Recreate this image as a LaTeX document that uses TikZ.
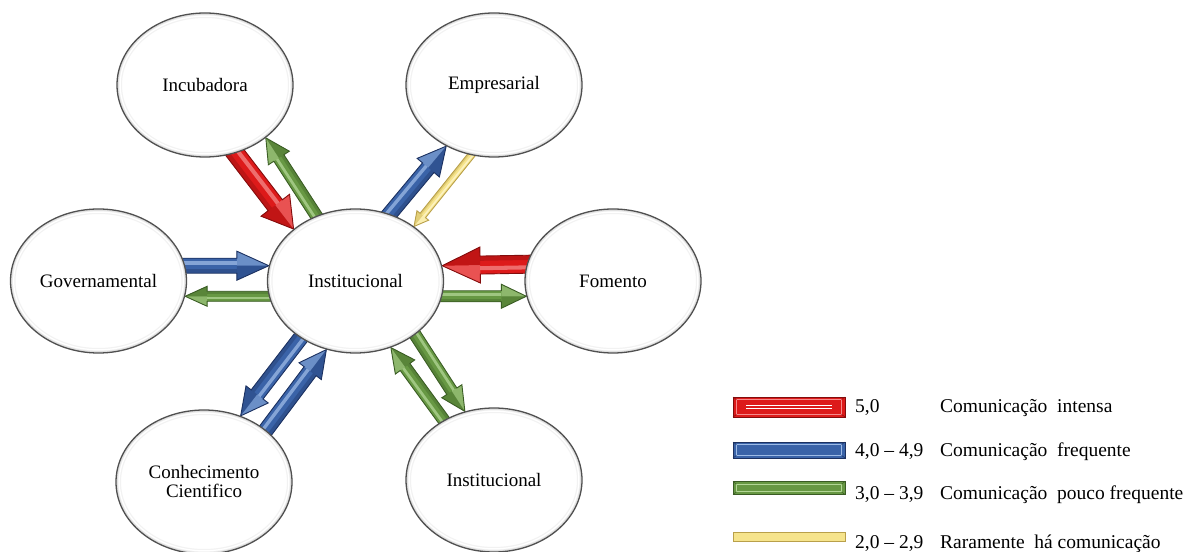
\documentclass[tikz,border=0pt]{standalone}
\usepackage{fontspec}
\setmainfont{Liberation Serif}
\usetikzlibrary{shapes.geometric,calc}

\pgfdeclarelayer{back}
\pgfsetlayers{back,main}

% colour palettes: base, dark rim, light highlight
\definecolor{cred}{HTML}{DD1A1A}
\definecolor{creddk}{HTML}{820C0C}
\definecolor{credlt}{HTML}{F58A8A}
\definecolor{cblue}{HTML}{3A63A8}
\definecolor{cbluedk}{HTML}{1C3160}
\definecolor{cbluelt}{HTML}{9DBBE6}
\definecolor{cgreen}{HTML}{679843}
\definecolor{cgreendk}{HTML}{3A5C24}
\definecolor{cgreenlt}{HTML}{B3D696}
\definecolor{cyellow}{HTML}{F6E48C}
\definecolor{cyellowdk}{HTML}{B9A04A}
\definecolor{cyellowlt}{HTML}{FFF8D2}
\definecolor{ovalrim}{HTML}{505050}

% bevelled block arrow: #1 palette, #2 shaft half width, #3 head half width,
% #4 head length, #5 tail point, #6 tip point
\newcommand\flowarrow[6]{%
  \pgfmathsetlengthmacro\faoff{0.35*#2}%
  \pgfmathsetlengthmacro\fawid{0.45*#2}%
  \pgfmathsetlengthmacro\fadoff{0.72*#2}%
  \pgfmathsetlengthmacro\fadwid{0.5*#2}%
  \coordinate (fa-p) at (#6);
  \coordinate (fa-t) at ($(#5)!-8pt!(fa-p)$);
  \coordinate (fa-h) at ($(fa-p)!#4!(fa-t)$);
  \coordinate (fa-a) at ($(fa-t)!#2!90:(fa-p)$);
  \coordinate (fa-b) at ($(fa-h)!#2!90:(fa-p)$);
  \coordinate (fa-c) at ($(fa-h)!#3!90:(fa-p)$);
  \coordinate (fa-d) at ($(fa-h)!#3!-90:(fa-p)$);
  \coordinate (fa-e) at ($(fa-h)!#2!-90:(fa-p)$);
  \coordinate (fa-f) at ($(fa-t)!#2!-90:(fa-p)$);
  \fill[#1] (fa-a) -- (fa-b) -- (fa-c) -- (fa-p) -- (fa-d) -- (fa-e) -- (fa-f) -- cycle;
  \draw[#1lt, line width=\fawid, opacity=.75]
    ($(fa-t)!\faoff!90:(fa-p)$) -- ($(fa-h)!\faoff!90:(fa-p)$);
  \draw[#1dk, line width=\fadwid, opacity=.35]
    ($(fa-t)!\fadoff!-90:(fa-p)$) -- ($(fa-h)!\fadoff!-90:(fa-p)$);
  \fill[#1lt, opacity=.5] (fa-c) -- (fa-p) -- (fa-h) -- cycle;
  \fill[#1dk, opacity=.3] (fa-d) -- (fa-p) -- (fa-h) -- cycle;
  \draw[#1dk, line width=.9pt, line join=miter]
    (fa-a) -- (fa-b) -- (fa-c) -- (fa-p) -- (fa-d) -- (fa-e) -- (fa-f) -- cycle;
}

% legend bar: #1 palette, #2 centre y, #3 half height
\newcommand\keybar[3]{%
  \filldraw[fill=#1, draw=#1dk, line width=.8pt] (733,{#2-#3}) rectangle (845,{#2+#3});
  \draw[#1lt, line width=.8pt] (736.5,{#2-#3+2.6}) rectangle (841.5,{#2+#3-2.6});
  \draw[#1dk, line width=.5pt] (733,{#2-#3}) -- (736.5,{#2-#3+2.6})
    (845,{#2-#3}) -- (841.5,{#2-#3+2.6})
    (733,{#2+#3}) -- (736.5,{#2+#3-2.6})
    (845,{#2+#3}) -- (841.5,{#2+#3-2.6});
}

\tikzset{
  oval/.style={ellipse, draw=ovalrim, line width=1.3pt, fill=white,
    minimum width=176pt, minimum height=144pt, inner sep=0pt, align=center,
    font=\fontsize{19}{19}\selectfont,
    path picture={
      \draw[black!5, line width=10pt] (path picture bounding box.center)
        ellipse [x radius=88pt, y radius=72pt];
      \draw[black!12, line width=3.5pt] (path picture bounding box.center)
        ellipse [x radius=88pt, y radius=72pt];
      \draw[white, line width=1.2pt] (path picture bounding box.center)
        ellipse [x radius=84.8pt, y radius=68.8pt];
    }},
  keynum/.style={anchor=base west, inner sep=0pt, font=\fontsize{19.5}{19.5}\selectfont},
  keytxt/.style={anchor=base west, inner sep=0pt, font=\fontsize{19.5}{19.5}\selectfont},
}

\begin{document}
\begin{tikzpicture}[x=1pt,y=1pt]
\useasboundingbox (0,0) rectangle (1190,551);

% actors
\node[oval] (inc)   at (205,466)   {Incubadora};
\node[oval] (emp)   at (494,466)   {Empresarial};
\node[oval] (gov)   at (98.5,270)  {Governamental};
\node[oval] (inst)  at (355.5,270) {Institucional};
\node[oval] (fom)   at (613,270)   {Fomento};
\node[oval] (conh)  at (204,69)    {Conhecimento\\Cientifico};
\node[oval] (instb) at (494,71)    {Institucional};

% communication flows, tucked under the ellipses
\begin{pgfonlayer}{back}
  \flowarrow{cred}{9pt}{18pt}{30pt}{inc.-66}{inst.140.8}
  \flowarrow{cgreen}{6pt}{12.5pt}{24pt}{inst.121}{inc.-41.6}
  \flowarrow{cblue}{7.5pt}{14.5pt}{28pt}{inst.63}{emp.-128.4}
  \flowarrow{cyellow}{3.5pt}{7.5pt}{14pt}{emp.-108.4}{inst.43.2}
  \flowarrow{cred}{9pt}{18pt}{38pt}{fom.169.5}{inst.10.5}
  \flowarrow{cgreen}{5.5pt}{12pt}{25pt}{inst.-10.5}{fom.190.5}
  \flowarrow{cblue}{7.5pt}{14.5pt}{32pt}{gov.10}{inst.170}
  \flowarrow{cgreen}{5pt}{10pt}{22pt}{inst.190.5}{gov.-10.5}
  \flowarrow{cblue}{7.5pt}{14pt}{27pt}{inst.-134.3}{conh.61.5}
  \flowarrow{cblue}{7.5pt}{14pt}{27pt}{conh.40.7}{inst.-113}
  \flowarrow{cgreen}{6pt}{12pt}{24pt}{instb.130.4}{inst.-62.2}
  \flowarrow{cgreen}{6pt}{12pt}{24pt}{inst.-42.8}{instb.113.9}
\end{pgfonlayer}

% legend
\keybar{cred}{144}{10}
\draw[white, line width=.7pt] (746,142.8) -- (832,142.8) (746,145.2) -- (832,145.2);
\keybar{cblue}{101}{8}
\keybar{cgreen}{63}{6.5}
\filldraw[fill=cyellow, draw=cyellowdk, line width=.7pt] (733,9.5) rectangle (845,18.5);

\node[keynum] (n1) at (855,138) {5,0};
\node[keytxt] (t1) at (940,138) {Comunicação\ \ intensa};
\node[keynum] (n2) at (855,94)  {4,0 – 4,9};
\node[keytxt] (t2) at (940,94)  {Comunicação\ \ frequente};
\node[keynum] (n3) at (855,51)  {3,0 – 3,9};
\node[keytxt] (t3) at (940,51)  {Comunicação\ \ pouco frequente};
\node[keynum] (n4) at (855,3)   {2,0 – 2,9};
\node[keytxt] (t4) at (940,3)   {Raramente\ \ há comunicação};
\end{tikzpicture}
\end{document}
